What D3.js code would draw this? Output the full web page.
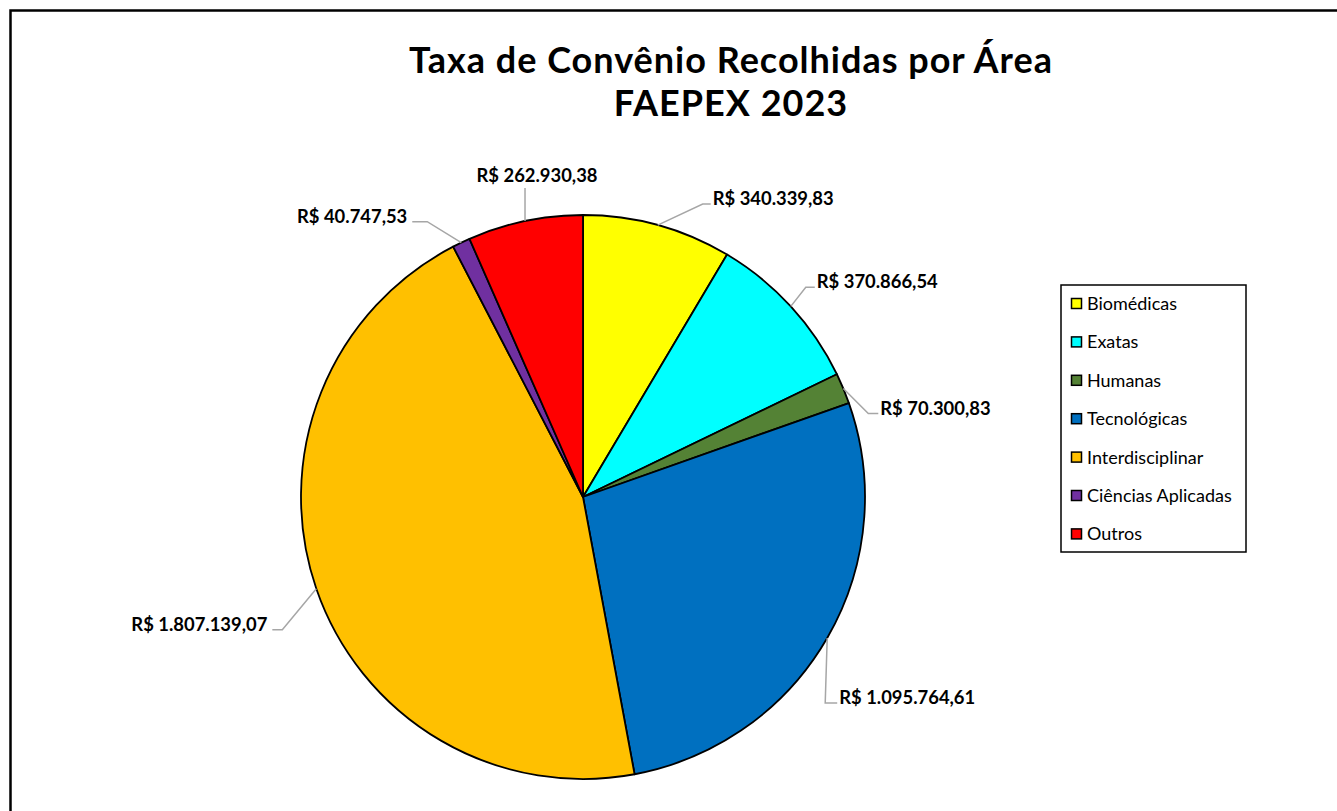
<!DOCTYPE html>
<html>
<head>
<meta charset="utf-8">
<script src="https://cdn.jsdelivr.net/npm/d3@7"></script>
<style>
  body { margin: 0; background: #fff; }
  svg { display: block; }
</style>
</head>
<body>
<div id="chart"></div>
<script>
// Taxa de convênio por área - FAEPEX 2023
const categories = ["Biomédicas", "Exatas", "Humanas", "Tecnológicas", "Interdisciplinar", "Ciências Aplicadas", "Outros"];
const values = [340339.83, 370866.54, 70300.83, 1095764.61, 1807139.07, 40747.53, 262930.38];
const valueLabels = ["R$ 340.339,83", "R$ 370.866,54", "R$ 70.300,83", "R$ 1.095.764,61", "R$ 1.807.139,07", "R$ 40.747,53", "R$ 262.930,38"];
const colors = ["#FFFF00", "#00FFFF", "#548235", "#0070C0", "#FFC000", "#7030A0", "#FF0000"];
const titleLines = ["Taxa de Convênio Recolhidas por Área", "FAEPEX 2023"];

// leader line layout: elbow offset from the arc point, then a horizontal run
const leaders = [
    { dx: 45, dy: -21, h: 8 },
    { dx: 15, dy: -19, h: 9 },
    { dx: 25, dy: 25, h: 10 },
    { dx: -2, dy: 65, h: 12 },
    { dx: -34, dy: 41, h: -10 },
    { dx: -34, dy: -21, h: -15 },
    { dx: 0, dy: -33, h: 0 }
];

const width = 1337, height = 811;
const cx = 583, cy = 497, radius = 282;
const font = "Lato, 'Open Sans', sans-serif";

const svg = d3.select("#chart")
    .append("svg")
    .attr("width", width)
    .attr("height", height);

// chart frame
svg.append("rect")
    .attr("x", 10.5)
    .attr("y", 10.5)
    .attr("width", 1500)
    .attr("height", 1000)
    .attr("fill", "#fff")
    .attr("stroke", "#000")
    .attr("stroke-width", 2.5);

svg.selectAll(".title")
    .data(titleLines)
    .enter()
    .append("text")
    .attr("class", "title")
    .attr("x", 731)
    .attr("y", (d, i) => 73 + i * 43)
    .attr("text-anchor", "middle")
    .style("font-family", font)
    .style("font-weight", "bold")
    .style("font-size", "36px")
    .style("letter-spacing", "1px")
    .attr("fill", "#000")
    .text((d) => d);

const data = categories.map((c, i) => ({ name: c, value: values[i], label: valueLabels[i], color: colors[i], leader: leaders[i] }));

const pie = d3.pie()
    .sort(null)
    .value((d) => d.value);

const arc = d3.arc()
    .innerRadius(0)
    .outerRadius(radius);

const arcs = pie(data);

const g = svg.append("g")
    .attr("transform", "translate(" + cx + "," + cy + ")");

g.selectAll(".slice")
    .data(arcs)
    .enter()
    .append("path")
    .attr("class", "slice")
    .attr("d", arc)
    .attr("fill", (d) => d.data.color)
    .attr("stroke", "#000")
    .attr("stroke-width", 1.8)
    .attr("stroke-linejoin", "round");

function edgePoint(d) {
    const a = (d.startAngle + d.endAngle) / 2;
    return [radius * Math.sin(a), -radius * Math.cos(a)];
}

// leader lines
g.selectAll(".leader")
    .data(arcs)
    .enter()
    .append("path")
    .attr("class", "leader")
    .attr("d", function(d) {
        const p = edgePoint(d);
        const l = d.data.leader;
        const e = [p[0] + l.dx, p[1] + l.dy];
        return d3.line()([p, e, [e[0] + l.h, e[1]]]);
    })
    .attr("fill", "none")
    .attr("stroke", "#A6A6A6")
    .attr("stroke-width", 1.5);

g.selectAll(".value-label")
    .data(arcs)
    .enter()
    .append("text")
    .attr("class", "value-label")
    .each(function(d) {
        const p = edgePoint(d);
        const l = d.data.leader;
        const ex = p[0] + l.dx + l.h, ey = p[1] + l.dy;
        const t = d3.select(this);
        if (l.h > 0) {
            t.attr("x", ex + 2).attr("y", ey + 1).attr("text-anchor", "start");
        } else if (l.h < 0) {
            t.attr("x", ex - 5).attr("y", ey + 1).attr("text-anchor", "end");
        } else {
            t.attr("x", ex + 12).attr("y", ey - 6).attr("text-anchor", "middle");
        }
    })
    .style("font-family", font)
    .style("font-weight", "bold")
    .style("font-size", "18.4px")
    .attr("fill", "#000")
    .text((d) => d.data.label);

// legend
const legend = svg.append("g")
    .attr("transform", "translate(1061,285)");

legend.append("rect")
    .attr("x", 0)
    .attr("y", 0)
    .attr("width", 185)
    .attr("height", 267)
    .attr("fill", "#fff")
    .attr("stroke", "#000")
    .attr("stroke-width", 1.5);

const item = legend.selectAll(".legend-item")
    .data(data)
    .enter()
    .append("g")
    .attr("class", "legend-item")
    .attr("transform", (d, i) => "translate(0," + (19 + i * 38.4) + ")");

item.append("rect")
    .attr("x", 10.5)
    .attr("y", -5.5)
    .attr("width", 10)
    .attr("height", 10)
    .attr("fill", (d) => d.color)
    .attr("stroke", "#000")
    .attr("stroke-width", 1.5);

item.append("text")
    .attr("x", 26)
    .attr("y", 6)
    .style("font-family", font)
    .style("font-size", "18px")
    .attr("fill", "#000")
    .text((d) => d.name);
</script>
</body>
</html>
